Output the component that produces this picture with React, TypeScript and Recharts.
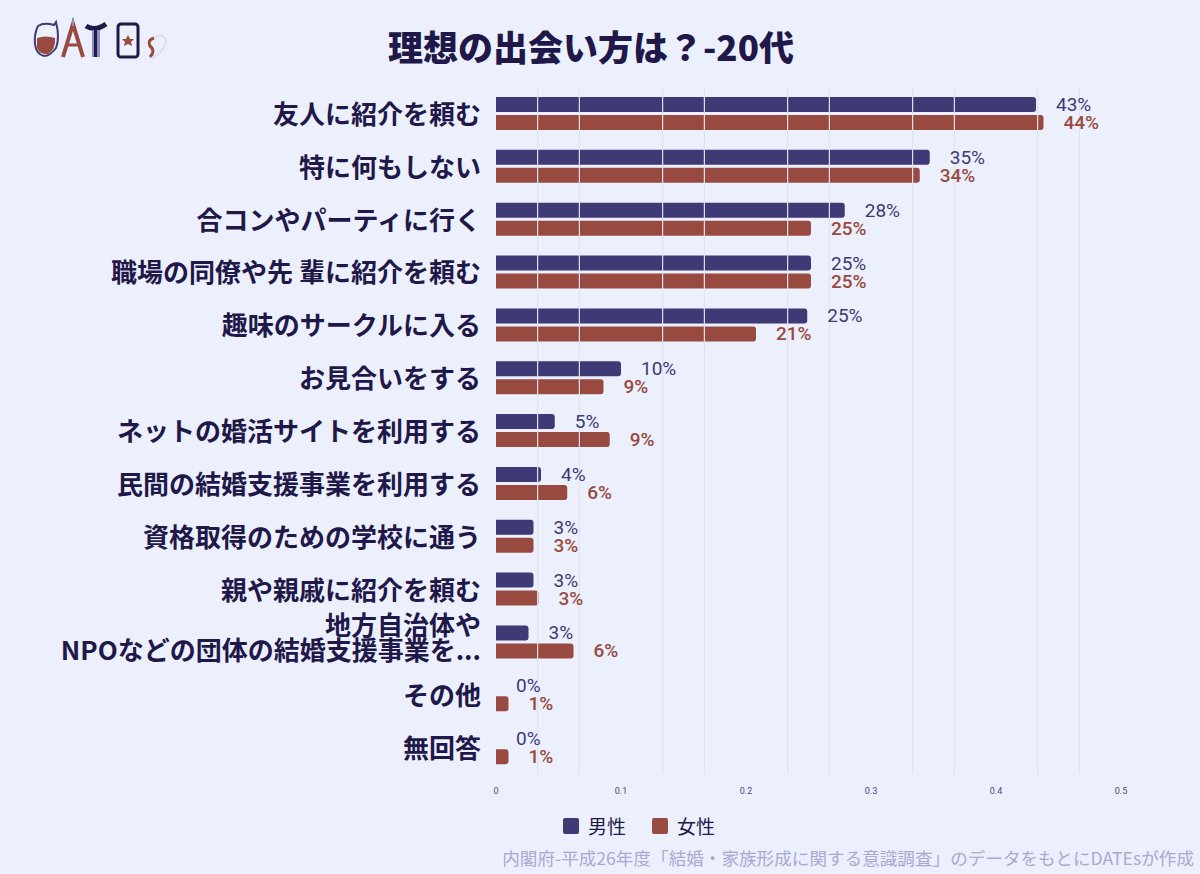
import React from "react";
import {
  Bar,
  BarChart,
  LabelList,
  Legend,
  ReferenceLine,
  XAxis,
  YAxis,
} from "recharts";

const categories = [
  "友人に紹介を頼む",
  "特に何もしない",
  "合コンやパーティに行く",
  "職場の同僚や先 輩に紹介を頼む",
  "趣味のサークルに入る",
  "お見合いをする",
  "ネットの婚活サイトを利用する",
  "民間の結婚支援事業を利用する",
  "資格取得のための学校に通う",
  "親や親戚に紹介を頼む",
  "地方自治体や\nNPOなどの団体の結婚支援事業を...",
  "その他",
  "無回答",
];

const maleValues = [0.432, 0.347, 0.279, 0.252, 0.249, 0.1, 0.047, 0.036, 0.03, 0.03, 0.026, 0, 0];
const femaleValues = [0.438, 0.339, 0.252, 0.252, 0.208, 0.086, 0.091, 0.057, 0.03, 0.034, 0.062, 0.01, 0.01];

const xTicks = [0, 0.1, 0.2, 0.3, 0.4, 0.5];
const gridValues = [0.0333, 0.0667, 0.1333, 0.1667, 0.2333, 0.2667, 0.3333, 0.3667, 0.4333, 0.4667];

const MALE = "#3f3975";
const FEMALE = "#994a40";
const INK = "#1f1849";
const BG = "#ebf0fc";
const FONT = "Roboto, 'Noto Sans CJK JP', sans-serif";
const JP = "'Noto Sans CJK JP', sans-serif";

const BAR_SIZE = 15;
const BAR_GAP = 3;

const data = categories.map((name, i) => ({
  name,
  male: maleValues[i],
  female: femaleValues[i],
}));

const pct = (v: number) => `${Math.round(v * 100)}%`;

function CategoryTick(props: any) {
  const { x, y, payload } = props;
  const lines = String(payload.value).split("\n");
  const offsets = lines.length > 1 ? [-18, 7] : [-1];
  return (
    <g>
      {lines.map((line, i) => (
        <text
          key={i}
          x={x}
          y={y + offsets[i]}
          textAnchor="end"
          dominantBaseline="central"
          fill={INK}
          fontSize={26}
          fontWeight={700}
          fontFamily={JP}
        >
          {line}
        </text>
      ))}
    </g>
  );
}

function ValueText({ x, y, value, color, weight }: any) {
  return (
    <text
      x={x}
      y={y}
      dominantBaseline="central"
      fill={color}
      fontSize={19}
      fontWeight={weight}
      fontFamily={FONT}
    >
      {pct(value)}
    </text>
  );
}

function maleLabel(props: any) {
  const { x, y, width, height, value } = props;
  return <ValueText x={x + width + 20} y={y + height / 2} value={value} color={MALE} weight={400} />;
}

// zero-length male bars get no label of their own, so the female label
// draws it one bar slot above
function femaleLabel(props: any) {
  const { x, y, width, height, value, index } = props;
  const male = maleValues[index];
  return (
    <g>
      <ValueText x={x + width + 20} y={y + height / 2} value={value} color={FEMALE} weight={500} />
      {male === 0 && (
        <ValueText
          x={x + 20}
          y={y + height / 2 - BAR_SIZE - BAR_GAP}
          value={male}
          color={MALE}
          weight={400}
        />
      )}
    </g>
  );
}

function LegendContent() {
  const items = [
    { label: "男性", color: MALE },
    { label: "女性", color: FEMALE },
  ];
  return (
    <div style={{ display: "flex", gap: 26, fontFamily: FONT }}>
      {items.map((it) => (
        <div key={it.label} style={{ display: "flex", alignItems: "center", gap: 9 }}>
          <span style={{ width: 16, height: 16, background: it.color, borderRadius: 2 }} />
          <span style={{ fontSize: 19, color: INK }}>{it.label}</span>
        </div>
      ))}
    </div>
  );
}

function Logo() {
  return (
    <svg width={150} height={50} style={{ position: "absolute", left: 30, top: 16 }}>
      {/* glass */}
      <path d="M8 10 Q14 6 24 9 L26 6 Q30 22 26 32 Q20 40 14 40 Q6 38 5 28 Q4 18 8 10 Z" fill="none" stroke={MALE} strokeWidth={2} />
      <path d="M7 22 Q16 19 25 22 Q26 33 18 38 Q10 39 7 32 Z" fill={FEMALE} />
      {/* tower A */}
      <path d="M33 41 L43 8 L53 41" fill="none" stroke={FEMALE} strokeWidth={4} />
      <line x1={37} y1={29} x2={49} y2={29} stroke={FEMALE} strokeWidth={3} />
      <line x1={43} y1={2} x2={43} y2={10} stroke="#8d90bd" strokeWidth={2} />
      {/* T */}
      <path d="M56 10 Q65 16 76 8" fill="none" stroke={INK} strokeWidth={5} />
      <rect x={62} y={14} width={8} height={27} fill="#8d90bd" />
      <rect x={64} y={14} width={3} height={27} fill={INK} />
      {/* E */}
      <rect x={88} y={8} width={20} height={33} rx={3} fill="none" stroke={INK} strokeWidth={3} />
      <path d="M98 19 l2 4 4 0 -3 3 1 4 -4 -2 -4 2 1 -4 -3 -3 4 0 z" fill={FEMALE} />
      {/* s + heart */}
      <path d="M124 22 Q117 24 120 30 Q126 35 120 41" fill="none" stroke={FEMALE} strokeWidth={3} />
      <path d="M124 22 Q134 16 136 26 Q134 36 122 42" fill="none" stroke="#dcdcf2" strokeWidth={2} />
    </svg>
  );
}

export default function App() {
  return (
    <div
      style={{
        position: "absolute",
        left: 0,
        top: 0,
        width: 1200,
        height: 874,
        background: BG,
        fontFamily: FONT,
        overflow: "hidden",
      }}
    >
      <Logo />
      <div
        style={{
          position: "absolute",
          left: 0,
          width: 1182,
          top: 20,
          textAlign: "center",
          fontSize: 35,
          fontWeight: 900,
          color: INK,
          fontFamily: JP,
        }}
      >
        理想の出会い方は？-20代
      </div>
      <BarChart
        width={1200}
        height={874}
        data={data}
        layout="vertical"
        margin={{ top: 87, right: 79, bottom: 70, left: 0 }}
        barGap={BAR_GAP}
        barSize={BAR_SIZE}
        style={{ position: "absolute", left: 0, top: 0 }}
      >
        {gridValues.map((v) => (
          <ReferenceLine key={v} x={v} stroke="#e0e3ef" strokeWidth={1.2} />
        ))}
        <XAxis
          type="number"
          domain={[0, 0.5]}
          ticks={xTicks}
          axisLine={false}
          tickLine={false}
          height={30}
          tickMargin={8}
          tick={{ fontSize: 9, fill: "#4b4780", fontFamily: FONT }}
        />
        <YAxis
          type="category"
          dataKey="name"
          width={496}
          axisLine={false}
          tickLine={false}
          tickSize={0}
          tickMargin={15}
          interval={0}
          tick={<CategoryTick />}
        />
        <Legend
          verticalAlign="middle"
          align="center"
          content={<LegendContent />}
          wrapperStyle={{ top: 812, left: 563, width: "auto", height: 26 }}
        />
        <Bar dataKey="male" name="男性" fill={MALE} radius={[0, 3, 3, 0]} isAnimationActive={false}>
          <LabelList dataKey="male" content={maleLabel} />
        </Bar>
        <Bar dataKey="female" name="女性" fill={FEMALE} radius={[0, 3, 3, 0]} isAnimationActive={false}>
          <LabelList dataKey="female" content={femaleLabel} />
        </Bar>
      </BarChart>
      <div
        style={{
          position: "absolute",
          right: 6,
          top: 845,
          fontSize: 17.6,
          color: "#aaa8d2",
          fontFamily: JP,
        }}
      >
        内閣府-平成26年度「結婚・家族形成に関する意識調査」のデータをもとにDATEsが作成
      </div>
    </div>
  );
}
